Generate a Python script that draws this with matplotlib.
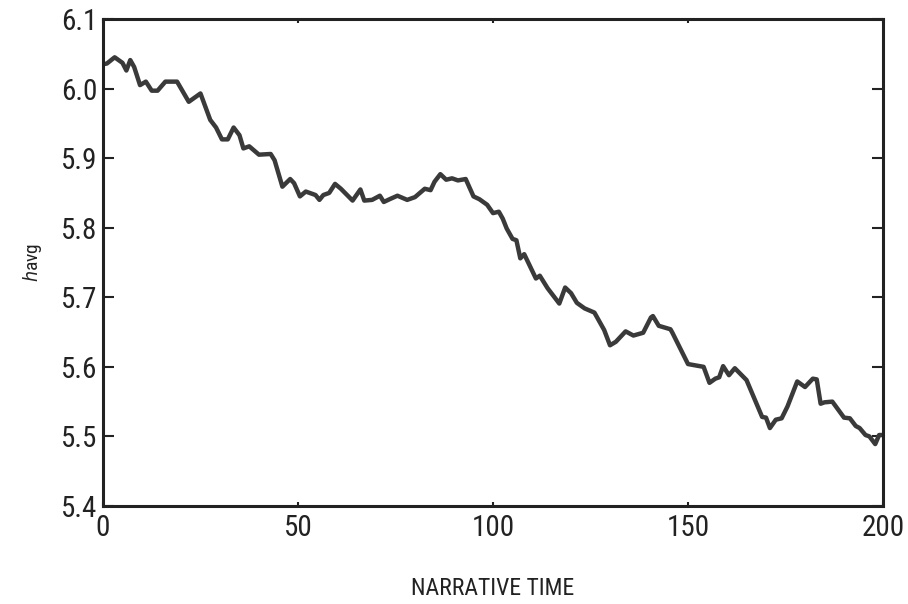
import matplotlib
matplotlib.use("Agg")
import matplotlib.pyplot as plt
from matplotlib import font_manager

# prefer a narrow face when one is present
names = set(f.name for f in font_manager.fontManager.ttflist)
narrow = [n for n in ['Liberation Sans Narrow', 'Arial Narrow', 'Roboto Condensed',
                      'Open Sans Condensed', 'DejaVu Sans Condensed'] if n in names]
plt.rcParams['font.family'] = narrow + ['DejaVu Sans']
plt.rcParams['font.stretch'] = 'condensed'
plt.rcParams['mathtext.fontset'] = 'dejavusans'

# values
narrative_time = [0, 1, 3, 5, 6, 7, 8, 9.5, 11, 12.5, 14, 16, 19, 22, 25, 27.5, 29,
                  30.5, 32, 33.5, 35, 36, 37.5, 40, 43, 44, 46, 48, 49, 50.5, 52,
                  54.5, 55.5, 56.5, 58, 59.5, 61, 64, 66, 67, 69, 71, 72, 73.5,
                  75.5, 78, 80, 82.5, 84, 85, 86.5, 88, 89.5, 91, 93, 95, 96.5,
                  98.5, 100, 101.5, 102.5, 103.5, 105, 106, 107, 108, 111, 112,
                  114, 117, 118.5, 120, 121.5, 123.5, 126, 128.5, 130, 131.5, 134,
                  136, 138.5, 140.5, 141, 142.5, 145.5, 146, 150, 151, 154, 155.5,
                  157, 158, 159, 160.5, 162, 165, 169, 170, 171, 172.5, 174, 175.5,
                  178, 180, 182, 183, 184, 185, 187, 190, 191.5, 193, 194, 195.5,
                  196.5, 198, 199, 200]
havg = [6.035, 6.036, 6.045, 6.037, 6.026, 6.041, 6.031, 6.005, 6.010, 5.997,
        5.997, 6.010, 6.010, 5.981, 5.993, 5.955, 5.944, 5.927, 5.927, 5.944,
        5.933, 5.914, 5.917, 5.905, 5.906, 5.897, 5.859, 5.870, 5.864, 5.845,
        5.852, 5.847, 5.840, 5.847, 5.850, 5.863, 5.856, 5.839, 5.855, 5.839,
        5.840, 5.846, 5.837, 5.841, 5.846, 5.840, 5.844, 5.856, 5.854, 5.866,
        5.877, 5.869, 5.871, 5.868, 5.870, 5.845, 5.841, 5.833, 5.821, 5.823,
        5.813, 5.799, 5.784, 5.782, 5.756, 5.762, 5.727, 5.731, 5.713, 5.691,
        5.714, 5.706, 5.692, 5.684, 5.678, 5.653, 5.631, 5.636, 5.651, 5.645,
        5.649, 5.671, 5.673, 5.659, 5.654, 5.649, 5.604, 5.603, 5.600, 5.577,
        5.583, 5.585, 5.601, 5.588, 5.598, 5.581, 5.528, 5.527, 5.512, 5.524,
        5.526, 5.543, 5.579, 5.571, 5.583, 5.582, 5.547, 5.549, 5.550, 5.527,
        5.526, 5.515, 5.512, 5.502, 5.500, 5.489, 5.502, 5.502]

xticks = [0, 50, 100, 150, 200]
yticks = [5.4, 5.5, 5.6, 5.7, 5.8, 5.9, 6.0, 6.1]

fig = plt.figure(figsize=(9.08, 6.04), dpi=100)
ax = fig.add_axes([0.1134, 0.1623, 0.8591, 0.8062])

ax.plot(narrative_time, havg, color='#3a3a3a', lw=3.2, solid_joinstyle='round')

ax.set_xlim(0, 200)
ax.set_ylim(5.4, 6.1)
ax.set_xticks(xticks)
ax.set_yticks(yticks)
ax.set_yticklabels(['%.1f' % v for v in yticks])

for s in ax.spines.values():
    s.set_linewidth(2.2)
    s.set_color('#222222')

lab = 21 if narrow else 18
ax.tick_params(axis='y', which='both', direction='in', length=8, width=1.5,
               right=True, labelsize=lab, colors='#222222', pad=4)
ax.tick_params(axis='x', which='both', direction='in', length=3, width=1.5,
               top=True, labelsize=lab, colors='#222222', pad=6)

ax.set_xlabel('NARRATIVE TIME', fontsize=17 if narrow else 13, color='#222222',
              labelpad=25)
ax.set_ylabel(r'$h$avg', fontsize=14 if narrow else 12, color='#222222',
              labelpad=12)

fig.savefig('out.png', dpi=100)
